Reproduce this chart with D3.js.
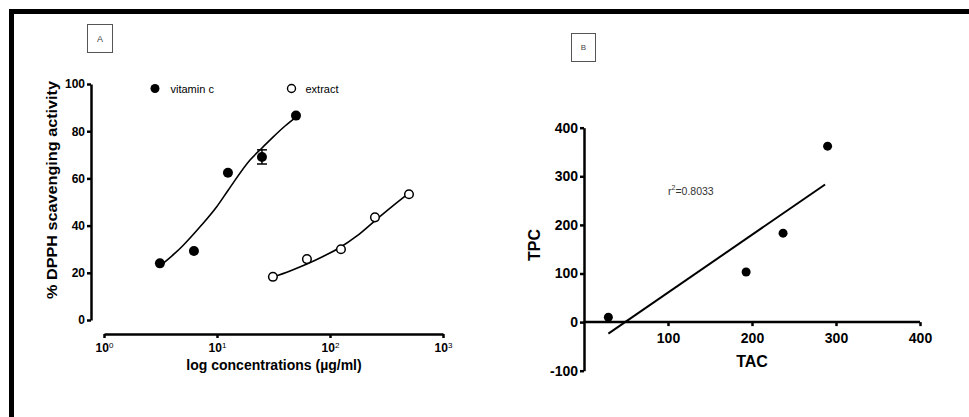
<!DOCTYPE html>
<html>
<head>
<meta charset="utf-8">
<script src="https://cdn.jsdelivr.net/npm/d3@7"></script>
<style>
  body { margin: 0; background: #fff; }
  svg { display: block; font-family: "Liberation Sans", Arial, sans-serif; }
  .axis path, .axis line { stroke: #000; stroke-width: 2.5px; }
  .axis text { font-weight: bold; fill: #000; }
</style>
</head>
<body>
<svg id="chart" width="969" height="417"></svg>
<script>
// Panel A: DPPH scavenging (concentration in µg/ml, % activity)
const vitConc = [3.125, 6.25, 12.5, 25, 50];
const vitAct = [24, 29.2, 62.4, 69.1, 86.6];
const vitErr = [0, 0, 0, 3, 0];
const extConc = [31.25, 62.5, 125, 250, 500];
const extAct = [18.3, 25.8, 30, 43.5, 53.3];

// fitted curves
const vitFitX = [3.2, 4.25, 5.03, 7.08, 9.94, 12.6, 19.6, 25, 31.3, 40, 50];
const vitFitY = [23.3, 28.3, 31.7, 39.5, 48, 55.1, 67.8, 72.9, 77.5, 82.2, 86];
const extFitX = [31.3, 44.3, 62.5, 86.7, 122.5, 173, 245, 346.7, 490];
const extFitY = [18.2, 20.8, 23.7, 26.9, 30.7, 35.6, 41.7, 47.7, 53.4];

const aXTicks = [1, 10, 100, 1000];
const aYTicks = [0, 20, 40, 60, 80, 100];

// Panel B: TPC vs TAC
const tac = [29, 193, 237, 290];
const tpc = [10, 103, 183, 362];
const bXTicks = [100, 200, 300, 400];
const bYTicks = [-100, 0, 100, 200, 300, 400];
const rSquared = '0.8033';

const svg = d3.select('#chart');

// outer frame (top and left edges only are in view)
svg.append('rect').attr('x', 9).attr('y', 9).attr('width', 960).attr('height', 5).attr('fill', '#000');
svg.append('rect').attr('x', 9).attr('y', 9).attr('width', 5).attr('height', 408).attr('fill', '#000');

// panel letter boxes
function letterBox(x, y, w, h, label, size) {
    svg.append('rect')
        .attr('x', x).attr('y', y).attr('width', w).attr('height', h)
        .attr('fill', 'none').attr('stroke', '#555').attr('stroke-width', 1);
    svg.append('text')
        .attr('x', x + w / 2).attr('y', y + h / 2 + size * 0.35)
        .attr('text-anchor', 'middle')
        .style('font-size', size + 'px').style('fill', '#444')
        .text(label);
}
letterBox(87.5, 24.5, 25, 28, 'A', 9);
letterBox(571.5, 33.5, 24, 28, 'B', 8);

// ---------- Panel A ----------
const xA = d3.scaleLog().domain([1, 1000]).range([104, 443]);
const yA = d3.scaleLinear().domain([0, 100]).range([320, 84]);

const yAxisA = svg.append('g')
    .attr('class', 'axis')
    .attr('transform', 'translate(91,0)')
    .call(d3.axisLeft(yA).tickValues(aYTicks).tickSize(4).tickPadding(2).tickSizeOuter(0));
yAxisA.selectAll('text').style('font-size', '12px');

const xAxisA = svg.append('g')
    .attr('class', 'axis')
    .attr('transform', 'translate(0,334)')
    .call(d3.axisBottom(xA).tickValues(aXTicks).tickSize(4).tickPadding(3).tickSizeOuter(0).tickFormat(''));
xAxisA.selectAll('.tick').append('text')
    .attr('y', 18)
    .attr('text-anchor', 'middle')
    .style('font-size', '12px')
    .each(function (d) {
        const t = d3.select(this);
        t.append('tspan').text('10');
        t.append('tspan').attr('dy', -4).style('font-size', '8px').style('font-weight', 'normal')
            .text(Math.round(Math.log10(d)));
    });

svg.append('text')
    .attr('x', 274).attr('y', 370)
    .attr('text-anchor', 'middle')
    .style('font-size', '14px').style('font-weight', 'bold')
    .text('log concentrations (µg/ml)');

svg.append('text')
    .attr('transform', 'translate(57,190) rotate(-90)')
    .attr('text-anchor', 'middle')
    .attr('textLength', 218)
    .attr('lengthAdjust', 'spacingAndGlyphs')
    .style('font-size', '14px').style('font-weight', 'bold')
    .text('% DPPH scavenging activity');

const lineA = d3.line()
    .x(d => xA(d[0]))
    .y(d => yA(d[1]))
    .curve(d3.curveMonotoneX);

svg.append('path')
    .datum(vitFitX.map((x, i) => [x, vitFitY[i]]))
    .attr('d', lineA)
    .attr('fill', 'none').attr('stroke', '#000').attr('stroke-width', 1.6);

svg.append('path')
    .datum(extFitX.map((x, i) => [x, extFitY[i]]))
    .attr('d', lineA)
    .attr('fill', 'none').attr('stroke', '#000').attr('stroke-width', 1.6);

// error bars
vitConc.forEach((c, i) => {
    if (!vitErr[i]) return;
    const cx = xA(c);
    const g = svg.append('g').attr('stroke', '#000').attr('stroke-width', 1.5);
    g.append('line').attr('x1', cx).attr('x2', cx).attr('y1', yA(vitAct[i] + vitErr[i])).attr('y2', yA(vitAct[i] - vitErr[i]));
    g.append('line').attr('x1', cx - 5).attr('x2', cx + 5).attr('y1', yA(vitAct[i] + vitErr[i])).attr('y2', yA(vitAct[i] + vitErr[i]));
    g.append('line').attr('x1', cx - 5).attr('x2', cx + 5).attr('y1', yA(vitAct[i] - vitErr[i])).attr('y2', yA(vitAct[i] - vitErr[i]));
});

svg.selectAll('.vit-dot')
    .data(vitConc)
    .enter()
    .append('circle')
    .attr('class', 'vit-dot')
    .attr('cx', d => xA(d))
    .attr('cy', (d, i) => yA(vitAct[i]))
    .attr('r', 5)
    .attr('fill', '#000');

svg.selectAll('.ext-dot')
    .data(extConc)
    .enter()
    .append('circle')
    .attr('class', 'ext-dot')
    .attr('cx', d => xA(d))
    .attr('cy', (d, i) => yA(extAct[i]))
    .attr('r', 4.3)
    .attr('fill', '#fff')
    .attr('stroke', '#000')
    .attr('stroke-width', 1.5);

// legend
svg.append('circle').attr('cx', 155).attr('cy', 88.5).attr('r', 4.5).attr('fill', '#000');
svg.append('text').attr('x', 170.5).attr('y', 92.5).style('font-size', '11px').text('vitamin c');
svg.append('circle').attr('cx', 291.5).attr('cy', 88.5).attr('r', 4).attr('fill', '#fff')
    .attr('stroke', '#000').attr('stroke-width', 1.4);
svg.append('text').attr('x', 305.5).attr('y', 92.5).style('font-size', '11px').text('extract');

// ---------- Panel B ----------
const xB = d3.scaleLinear().domain([0, 400]).range([584, 920]);
const yB = d3.scaleLinear().domain([-100, 400]).range([370.7, 127.7]);

const yAxisB = svg.append('g')
    .attr('class', 'axis')
    .attr('transform', `translate(${xB(0)},0)`)
    .call(d3.axisLeft(yB).tickValues(bYTicks).tickSize(4).tickPadding(2).tickSizeOuter(0)
        .tickFormat(d => String(d)));
yAxisB.selectAll('text').style('font-size', '14px');

const xAxisB = svg.append('g')
    .attr('class', 'axis')
    .attr('transform', `translate(0,${yB(0)})`)
    .call(d3.axisBottom(xB).tickValues(bXTicks).tickSize(4).tickPadding(7).tickSizeOuter(0));
xAxisB.select('.domain').attr('d', `M${xB(0)},0H${xB(400)}`);
xAxisB.selectAll('text').style('font-size', '14px');

svg.append('text')
    .attr('x', xB(200)).attr('y', 367)
    .attr('text-anchor', 'middle')
    .style('font-size', '16px').style('font-weight', 'bold')
    .text('TAC');

svg.append('text')
    .attr('transform', 'translate(540,245) rotate(-90)')
    .attr('text-anchor', 'middle')
    .style('font-size', '16px').style('font-weight', 'bold')
    .text('TPC');

// least squares line over the data range
const mx = d3.mean(tac), my = d3.mean(tpc);
const slope = d3.sum(tac, (x, i) => (x - mx) * (tpc[i] - my)) / d3.sum(tac, x => (x - mx) ** 2);
const intercept = my - slope * mx;
const xEnds = d3.extent(tac);
svg.append('line')
    .attr('x1', xB(xEnds[0])).attr('y1', yB(intercept + slope * xEnds[0]))
    .attr('x2', xB(xEnds[1] - 3)).attr('y2', yB(intercept + slope * (xEnds[1] - 3)))
    .attr('stroke', '#000').attr('stroke-width', 2);

svg.selectAll('.b-dot')
    .data(tac)
    .enter()
    .append('circle')
    .attr('class', 'b-dot')
    .attr('cx', d => xB(d))
    .attr('cy', (d, i) => yB(tpc[i]))
    .attr('r', 4.5)
    .attr('fill', '#000');

const rText = svg.append('text')
    .attr('x', 668).attr('y', 195)
    .style('font-size', '10.5px').style('fill', '#333');
rText.append('tspan').text('r');
rText.append('tspan').attr('dy', -5).style('font-size', '7px').text('2');
rText.append('tspan').attr('dy', 5).text('=' + rSquared);
</script>
</body>
</html>
